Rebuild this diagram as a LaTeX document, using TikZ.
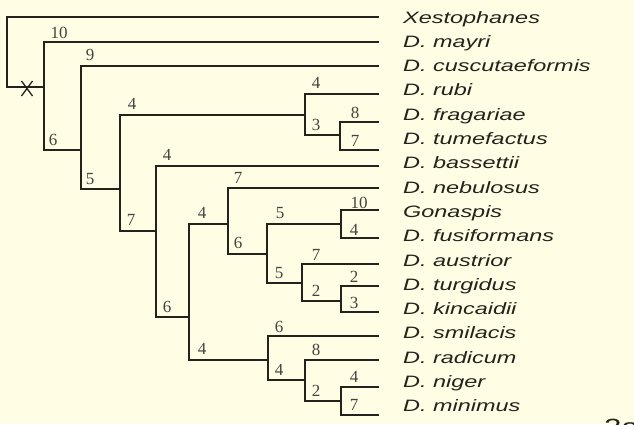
\documentclass[tikz,border=0pt]{standalone}
\usepackage{fontspec}
\setmainfont{Liberation Serif}
\newfontfamily\taxonfont[FakeStretch=1.42]{Liberation Sans}
\usetikzlibrary{positioning}
\definecolor{paper}{RGB}{255,253,228}
\definecolor{ink}{RGB}{38,33,28}

\begin{document}
\begin{tikzpicture}[x=1pt, y=-1pt,
  branch/.style={draw=ink, line width=2.2pt, line cap=rect},
  taxon/.style={anchor=base west, inner sep=0pt, text=ink,
    font=\taxonfont\itshape\fontsize{16.5}{18}\selectfont},
  supp/.style={inner sep=0pt, text=ink!85, font=\fontsize{17}{18}\selectfont}
]
  \fill[paper] (0,0) rectangle (634,424);
  \useasboundingbox (0,0) rectangle (634,424);

  % Leaves
  \foreach \i/\yl/\name in {1/17/Xestophanes, 2/42/D. mayri, 3/66/D. cuscutaeformis,
      4/94/D. rubi, 5/122/D. fragariae, 6/150/D. tumefactus, 7/166/D. bassettii,
      8/188/D. nebulosus, 9/210/Gonaspis, 10/238/D. fusiformans, 11/264/D. austrior,
      12/286/D. turgidus, 13/312/D. kincaidii, 14/336/D. smilacis, 15/360/D. radicum,
      16/387/D. niger, 17/415/D. minimus} {
    \coordinate (l\i) at (378, \yl);
    \node[taxon] (t\i) at (403, {23+24.3*(\i-1)}) {\name};
  }

  % Internal nodes
  \coordinate (root) at (7, 87);
  \coordinate (nA) at (44, 87);
  \coordinate (nB) at (81, 150);
  \coordinate (nC) at (120, 189);
  \coordinate (nD) at (305, 115);
  \coordinate (nE) at (340, 135);
  \coordinate (nF) at (156, 231);
  \coordinate (nG) at (189, 317);
  \coordinate (nH) at (228, 224);
  \coordinate (nI) at (267, 254);
  \coordinate (nJ) at (341, 224);
  \coordinate (nK) at (302, 283);
  \coordinate (nL) at (341, 301);
  \coordinate (nM) at (268, 360);
  \coordinate (nN) at (305, 380);
  \coordinate (nO) at (341, 401);

  % Branches
  \foreach \a/\b in {root/l1, root/nA, nA/l2, nA/nB, nB/l3, nB/nC, nC/nD, nC/nF,
      nD/l4, nD/nE, nE/l5, nE/l6, nF/l7, nF/nG, nG/nH, nG/nM, nH/l8, nH/nI,
      nI/nJ, nI/nK, nJ/l9, nJ/l10, nK/l11, nK/nL, nL/l12, nL/l13,
      nM/l14, nM/nN, nN/l15, nN/nO, nO/l16, nO/l17} {
    \draw[branch] (\a) |- (\b);
  }

  % Cut mark on the root branch
  \coordinate (cut) at (27, 88.5);
  \draw[ink, line width=1.3pt] ([shift={(-5.5,-7.5)}]cut) -- ([shift={(5.5,7.5)}]cut)
    ([shift={(-5.5,7.5)}]cut) -- ([shift={(5.5,-7.5)}]cut);

  % Support values
  \foreach \x/\y/\v [count=\k] in {59/33/10, 53/140/6, 90/55/9, 90/179/5, 132/104/4,
      131/220/7, 316/83/4, 316/125/3, 355/113/8, 355/141/7, 167/155/4, 167/307/6,
      202/213/4, 202/349/4, 238/178/7, 238/243/6, 280/213/5, 279/273/5, 359/203/10,
      354/230/4, 316/255/7, 316/291/2, 354/277/2, 354/303/3, 279/327/6, 279/370/4,
      316/350/8, 316/391/2, 354/377/4, 354/405/7} {
    \node[supp] (s\k) at (\x, \y) {\v};
  }

  % Figure number, cut by the page edge
  \node[anchor=base west, inner sep=0pt, text=ink,
    font=\taxonfont\fontsize{22}{24}\selectfont] (fignum) at (604, 434) {2a};
\end{tikzpicture}
\end{document}
